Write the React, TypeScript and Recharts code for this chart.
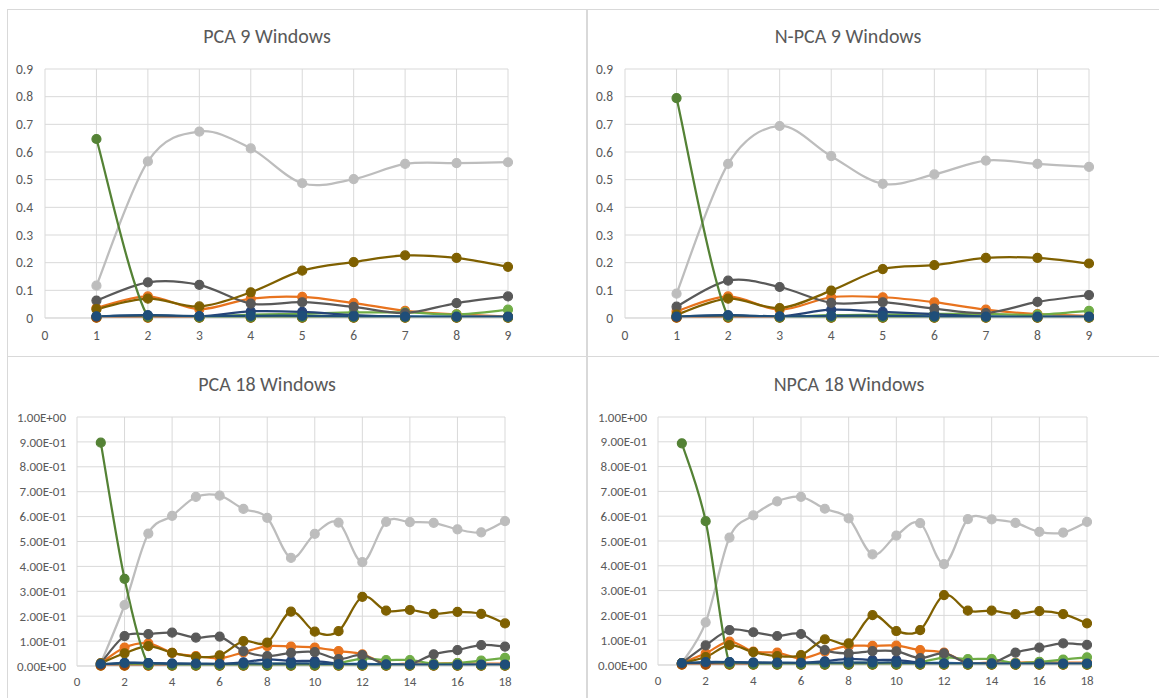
import React from 'react';
import { LineChart, Line, XAxis, YAxis, CartesianGrid } from 'recharts';

// window numbers
const X9 = [1, 2, 3, 4, 5, 6, 7, 8, 9];
const X18 = [1, 2, 3, 4, 5, 6, 7, 8, 9, 10, 11, 12, 13, 14, 15, 16, 17, 18];

const TICKS_X9 = [0, 1, 2, 3, 4, 5, 6, 7, 8, 9];
const TICKS_X18 = [0, 2, 4, 6, 8, 10, 12, 14, 16, 18];
const TICKS_Y9 = [0, 0.1, 0.2, 0.3, 0.4, 0.5, 0.6, 0.7, 0.8, 0.9];
const TICKS_Y18 = [0, 0.1, 0.2, 0.3, 0.4, 0.5, 0.6, 0.7, 0.8, 0.9, 1];

const TITLES = ['PCA 9 Windows', 'N-PCA 9 Windows', 'PCA 18 Windows', 'NPCA 18 Windows'];

// series colours (s1..s12)
const COLORS = [
  '#4472C4', '#E8731E', '#BDBDBD', '#FFC000', '#5B9BD5', '#70AD47',
  '#264478', '#9E480E', '#595959', '#7F6000', '#1F4E79', '#548235',
];
// drawing order: the steel blue series sits on top of the near-zero markers
const DRAW_ORDER = [0, 1, 2, 3, 4, 5, 6, 7, 8, 9, 11, 10];

// ---- PCA 9 windows
const pca9_s1 = [0.003, 0.004, 0.003, 0.004, 0.004, 0.003, 0.003, 0.002, 0.002];
const pca9_s2 = [0.036, 0.078, 0.032, 0.07, 0.076, 0.054, 0.026, 0.013, 0.006];
const pca9_s3 = [0.117, 0.566, 0.674, 0.613, 0.487, 0.502, 0.557, 0.56, 0.563];
const pca9_s4 = [0.001, 0.001, 0.001, 0.001, 0.001, 0.001, 0.001, 0.001, 0.001];
const pca9_s5 = [0.004, 0.005, 0.004, 0.008, 0.008, 0.006, 0.006, 0.005, 0.004];
const pca9_s6 = [0.004, 0.005, 0.004, 0.012, 0.015, 0.02, 0.02, 0.013, 0.03];
const pca9_s7 = [0.005, 0.01, 0.005, 0.024, 0.022, 0.01, 0.004, 0.003, 0.003];
const pca9_s8 = [0.001, 0.001, 0.001, 0.001, 0.001, 0.001, 0.001, 0.001, 0.001];
const pca9_s9 = [0.063, 0.129, 0.12, 0.052, 0.057, 0.04, 0.018, 0.054, 0.078];
const pca9_s10 = [0.032, 0.07, 0.042, 0.093, 0.171, 0.202, 0.226, 0.217, 0.185];
const pca9_s11 = [0.006, 0.01, 0.007, 0.008, 0.008, 0.006, 0.005, 0.005, 0.005];
const pca9_s12 = [0.647, 0.004, 0.002, 0.002, 0.002, 0.002, 0.002, 0.002, 0.002];

// ---- N-PCA 9 windows
const npca9_s1 = [0.003, 0.004, 0.003, 0.004, 0.004, 0.003, 0.003, 0.002, 0.002];
const npca9_s2 = [0.024, 0.078, 0.03, 0.075, 0.075, 0.057, 0.03, 0.014, 0.008];
const npca9_s3 = [0.088, 0.557, 0.694, 0.585, 0.485, 0.519, 0.569, 0.557, 0.546];
const npca9_s4 = [0.001, 0.001, 0.001, 0.001, 0.001, 0.001, 0.001, 0.001, 0.001];
const npca9_s5 = [0.004, 0.005, 0.004, 0.008, 0.008, 0.006, 0.006, 0.005, 0.004];
const npca9_s6 = [0.004, 0.005, 0.004, 0.01, 0.012, 0.015, 0.015, 0.012, 0.026];
const npca9_s7 = [0.004, 0.01, 0.005, 0.03, 0.022, 0.014, 0.005, 0.003, 0.003];
const npca9_s8 = [0.001, 0.001, 0.001, 0.001, 0.001, 0.001, 0.001, 0.001, 0.001];
const npca9_s9 = [0.041, 0.135, 0.112, 0.055, 0.057, 0.034, 0.018, 0.058, 0.083];
const npca9_s10 = [0.012, 0.07, 0.036, 0.099, 0.177, 0.191, 0.217, 0.217, 0.197];
const npca9_s11 = [0.005, 0.01, 0.006, 0.008, 0.008, 0.006, 0.005, 0.005, 0.005];
const npca9_s12 = [0.795, 0.004, 0.002, 0.002, 0.002, 0.002, 0.002, 0.002, 0.002];

// ---- PCA 18 windows
const pca18_s1 = [0.003, 0.003, 0.003, 0.003, 0.003, 0.003, 0.003, 0.003, 0.003, 0.003, 0.003, 0.003, 0.002, 0.002, 0.002, 0.002, 0.002, 0.002];
const pca18_s2 = [0.011, 0.074, 0.091, 0.053, 0.04, 0.031, 0.055, 0.08, 0.078, 0.074, 0.06, 0.047, 0.01, 0.01, 0.01, 0.012, 0.01, 0.01];
const pca18_s3 = [0.011, 0.245, 0.532, 0.603, 0.679, 0.684, 0.631, 0.595, 0.434, 0.531, 0.576, 0.417, 0.579, 0.578, 0.575, 0.549, 0.537, 0.582];
const pca18_s4 = [0.001, 0.001, 0.001, 0.001, 0.001, 0.001, 0.001, 0.001, 0.001, 0.001, 0.001, 0.001, 0.001, 0.001, 0.001, 0.001, 0.001, 0.001];
const pca18_s5 = [0.004, 0.005, 0.005, 0.005, 0.005, 0.005, 0.006, 0.008, 0.008, 0.008, 0.008, 0.01, 0.006, 0.006, 0.006, 0.006, 0.006, 0.006];
const pca18_s6 = [0.005, 0.005, 0.005, 0.005, 0.005, 0.005, 0.005, 0.008, 0.008, 0.008, 0.012, 0.03, 0.024, 0.024, 0.01, 0.012, 0.022, 0.033];
const pca18_s7 = [0.005, 0.013, 0.012, 0.01, 0.008, 0.008, 0.015, 0.027, 0.02, 0.02, 0.01, 0.005, 0.004, 0.004, 0.004, 0.004, 0.004, 0.004];
const pca18_s8 = [0.001, 0.001, 0.001, 0.001, 0.001, 0.001, 0.001, 0.001, 0.001, 0.001, 0.001, 0.001, 0.001, 0.001, 0.001, 0.001, 0.001, 0.001];
const pca18_s9 = [0.011, 0.12, 0.128, 0.134, 0.114, 0.118, 0.06, 0.04, 0.053, 0.056, 0.028, 0.044, 0.004, 0.007, 0.047, 0.064, 0.084, 0.078];
const pca18_s10 = [0.011, 0.051, 0.08, 0.053, 0.037, 0.043, 0.1, 0.094, 0.218, 0.138, 0.14, 0.278, 0.222, 0.225, 0.209, 0.217, 0.209, 0.171];
const pca18_s11 = [0.008, 0.012, 0.012, 0.01, 0.01, 0.009, 0.01, 0.01, 0.01, 0.01, 0.008, 0.007, 0.007, 0.006, 0.006, 0.006, 0.006, 0.006];
const pca18_s12 = [0.897, 0.35, 0.004, 0.002, 0.002, 0.002, 0.002, 0.002, 0.002, 0.002, 0.002, 0.002, 0.002, 0.002, 0.002, 0.002, 0.002, 0.002];

// ---- NPCA 18 windows
const npca18_s1 = [0.003, 0.003, 0.003, 0.003, 0.003, 0.003, 0.003, 0.003, 0.003, 0.003, 0.003, 0.003, 0.002, 0.002, 0.002, 0.002, 0.002, 0.002];
const npca18_s2 = [0.008, 0.047, 0.094, 0.054, 0.05, 0.027, 0.054, 0.077, 0.077, 0.078, 0.06, 0.05, 0.01, 0.01, 0.01, 0.012, 0.01, 0.01];
const npca18_s3 = [0.007, 0.172, 0.514, 0.603, 0.66, 0.678, 0.63, 0.591, 0.446, 0.522, 0.572, 0.407, 0.588, 0.587, 0.573, 0.537, 0.534, 0.577];
const npca18_s4 = [0.001, 0.001, 0.001, 0.001, 0.001, 0.001, 0.001, 0.001, 0.001, 0.001, 0.001, 0.001, 0.001, 0.001, 0.001, 0.001, 0.001, 0.001];
const npca18_s5 = [0.004, 0.005, 0.005, 0.005, 0.005, 0.005, 0.006, 0.008, 0.008, 0.008, 0.008, 0.01, 0.006, 0.006, 0.006, 0.006, 0.006, 0.006];
const npca18_s6 = [0.005, 0.005, 0.005, 0.005, 0.005, 0.005, 0.005, 0.008, 0.008, 0.008, 0.012, 0.03, 0.024, 0.024, 0.008, 0.013, 0.022, 0.031];
const npca18_s7 = [0.005, 0.008, 0.012, 0.01, 0.008, 0.008, 0.015, 0.025, 0.02, 0.02, 0.01, 0.005, 0.004, 0.004, 0.004, 0.004, 0.004, 0.004];
const npca18_s8 = [0.001, 0.001, 0.001, 0.001, 0.001, 0.001, 0.001, 0.001, 0.001, 0.001, 0.001, 0.001, 0.001, 0.001, 0.001, 0.001, 0.001, 0.001];
const npca18_s9 = [0.008, 0.079, 0.141, 0.132, 0.117, 0.125, 0.06, 0.047, 0.056, 0.055, 0.028, 0.047, 0.007, 0.007, 0.05, 0.07, 0.087, 0.081];
const npca18_s10 = [0.008, 0.032, 0.08, 0.052, 0.036, 0.04, 0.103, 0.087, 0.201, 0.137, 0.141, 0.282, 0.219, 0.219, 0.205, 0.217, 0.205, 0.168];
const npca18_s11 = [0.008, 0.012, 0.012, 0.01, 0.01, 0.009, 0.01, 0.01, 0.01, 0.01, 0.008, 0.007, 0.007, 0.006, 0.006, 0.006, 0.006, 0.006];
const npca18_s12 = [0.894, 0.58, 0.004, 0.002, 0.002, 0.002, 0.002, 0.002, 0.002, 0.002, 0.002, 0.002, 0.002, 0.002, 0.002, 0.002, 0.002, 0.002];

const buildRows = (xs: number[], series: number[][]) =>
  xs.map((x, i) => {
    const row: any = { x };
    series.forEach((s, k) => { row[`s${k + 1}`] = s[i]; });
    return row;
  });

const rowsPca9 = buildRows(X9, [pca9_s1, pca9_s2, pca9_s3, pca9_s4, pca9_s5, pca9_s6, pca9_s7, pca9_s8, pca9_s9, pca9_s10, pca9_s11, pca9_s12]);
const rowsNpca9 = buildRows(X9, [npca9_s1, npca9_s2, npca9_s3, npca9_s4, npca9_s5, npca9_s6, npca9_s7, npca9_s8, npca9_s9, npca9_s10, npca9_s11, npca9_s12]);
const rowsPca18 = buildRows(X18, [pca18_s1, pca18_s2, pca18_s3, pca18_s4, pca18_s5, pca18_s6, pca18_s7, pca18_s8, pca18_s9, pca18_s10, pca18_s11, pca18_s12]);
const rowsNpca18 = buildRows(X18, [npca18_s1, npca18_s2, npca18_s3, npca18_s4, npca18_s5, npca18_s6, npca18_s7, npca18_s8, npca18_s9, npca18_s10, npca18_s11, npca18_s12]);

// Excel style smoothed line (uniform Catmull-Rom as cubic beziers)
const excelCurve: any = (context: any) => {
  let pts: number[][] = [];
  return {
    areaStart() {},
    areaEnd() {},
    lineStart() { pts = []; },
    point(x: number, y: number) { pts.push([+x, +y]); },
    lineEnd() {
      const n = pts.length;
      if (!n) return;
      context.moveTo(pts[0][0], pts[0][1]);
      for (let i = 0; i < n - 1; i++) {
        const p0 = pts[Math.max(i - 1, 0)];
        const p1 = pts[i];
        const p2 = pts[i + 1];
        const p3 = pts[Math.min(i + 2, n - 1)];
        context.bezierCurveTo(
          p1[0] + (p2[0] - p0[0]) / 6, p1[1] + (p2[1] - p0[1]) / 6,
          p2[0] - (p3[0] - p1[0]) / 6, p2[1] - (p3[1] - p1[1]) / 6,
          p2[0], p2[1],
        );
      }
    },
  };
};

const sci = (v: number) => {
  if (v === 0) return '0.00E+00';
  const e = Math.floor(Math.log10(v) + 1e-9);
  const m = v / Math.pow(10, e);
  return `${m.toFixed(2)}E${e < 0 ? '-' : '+'}${String(Math.abs(e)).padStart(2, '0')}`;
};

const FONT = 'Calibri, Carlito, Lato, sans-serif';
const TEXT = '#595959';
const GRID = '#D9D9D9';

const PANELS = [
  { title: TITLES[0], rows: rowsPca9, left: 0, top: 0, w: 580, h: 356, plotTop: 69, yW: 45, right: 72, xH: 30, bottom: 8, xMax: 9, xTicks: TICKS_X9, yMax: 0.9, yTicks: TICKS_Y9, fmt: (v: number) => String(v), yFs: 13.5, xFs: 13.5, xMargin: 6, yMargin: 6, titleX: 267, titleY: 36 },
  { title: TITLES[1], rows: rowsNpca9, left: 580, top: 0, w: 579, h: 356, plotTop: 69, yW: 45, right: 70, xH: 30, bottom: 8, xMax: 9, xTicks: TICKS_X9, yMax: 0.9, yTicks: TICKS_Y9, fmt: (v: number) => String(v), yFs: 13.5, xFs: 13.5, xMargin: 6, yMargin: 6, titleX: 268, titleY: 36 },
  { title: TITLES[2], rows: rowsPca18, left: 0, top: 350, w: 580, h: 348, plotTop: 67, yW: 77, right: 75, xH: 24, bottom: 8, xMax: 18, xTicks: TICKS_X18, yMax: 1, yTicks: TICKS_Y18, fmt: sci, yFs: 13, xFs: 13, xMargin: 5, yMargin: 5, titleX: 267, titleY: 34 },
  { title: TITLES[3], rows: rowsNpca18, left: 580, top: 350, w: 579, h: 348, plotTop: 67, yW: 78, right: 72, xH: 25, bottom: 8, xMax: 18, xTicks: TICKS_X18, yMax: 1, yTicks: TICKS_Y18, fmt: sci, yFs: 13, xFs: 13, xMargin: 5, yMargin: 5, titleX: 269, titleY: 34 },
];

const Panel = ({ p }: { p: any }) => (
  <div style={{ position: 'absolute', left: p.left, top: p.top, width: p.w, height: p.h }}>
    <div
      style={{
        position: 'absolute', left: p.titleX, top: p.titleY - 13, transform: 'translateX(-50%)',
        whiteSpace: 'nowrap', fontFamily: FONT, fontSize: 20, lineHeight: '26px', color: TEXT,
      }}
    >
      {p.title}
    </div>
    <LineChart
      width={p.w}
      height={p.h}
      data={p.rows}
      margin={{ top: p.plotTop, right: p.right, bottom: p.bottom, left: 0 }}
      style={{ position: 'absolute', left: 0, top: 0 }}
    >
      <CartesianGrid stroke={GRID} strokeWidth={1} />
      <XAxis
        type="number"
        dataKey="x"
        domain={[0, p.xMax]}
        ticks={p.xTicks}
        interval={0}
        allowDataOverflow
        height={p.xH}
        axisLine={{ stroke: GRID }}
        tickLine={false}
        tickMargin={p.xMargin}
        tick={{ fill: TEXT, fontSize: p.xFs, fontFamily: FONT }}
      />
      <YAxis
        type="number"
        domain={[0, p.yMax]}
        ticks={p.yTicks}
        interval={0}
        allowDataOverflow
        width={p.yW}
        axisLine={false}
        tickLine={false}
        tickMargin={p.yMargin}
        tickFormatter={p.fmt}
        tick={{ fill: TEXT, fontSize: p.yFs, fontFamily: FONT }}
      />
      {DRAW_ORDER.map((i) => (
        <Line
          key={i}
          dataKey={`s${i + 1}`}
          type={excelCurve}
          stroke={COLORS[i]}
          strokeWidth={2.25}
          dot={{ r: 4.5, fill: COLORS[i], stroke: COLORS[i], strokeWidth: 1.2, clipDot: false }}
          activeDot={false}
          isAnimationActive={false}
        />
      ))}
    </LineChart>
  </div>
);

export default function App() {
  return (
    <div style={{ position: 'fixed', left: 0, top: 0, width: 1159, height: 698, background: '#fff', overflow: 'hidden' }}>
      {/* panel frames */}
      <div style={{ position: 'absolute', left: 7, top: 9, width: 578, height: 346, border: `1px solid ${GRID}` }} />
      <div style={{ position: 'absolute', left: 587, top: 9, width: 600, height: 346, border: `1px solid ${GRID}` }} />
      <div style={{ position: 'absolute', left: 7, top: 356, width: 578, height: 400, border: `1px solid ${GRID}` }} />
      <div style={{ position: 'absolute', left: 587, top: 356, width: 600, height: 400, border: `1px solid ${GRID}` }} />
      {PANELS.map((p, i) => (
        <Panel key={i} p={p} />
      ))}
    </div>
  );
}
